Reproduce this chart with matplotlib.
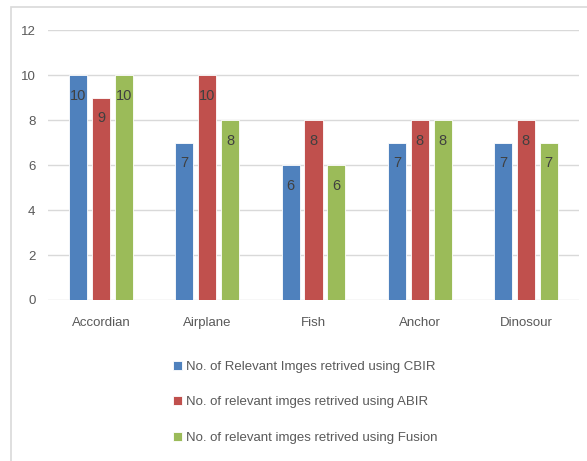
import matplotlib.pyplot as plt
import numpy as np
from matplotlib.patches import Rectangle

plt.rcParams['font.family'] = ['Liberation Sans', 'DejaVu Sans']

categories = ['Accordian', 'Airplane', 'Fish', 'Anchor', 'Dinosour']
cbir = [10, 7, 6, 7, 7]
abir = [9, 10, 8, 8, 8]
fusion = [10, 8, 6, 8, 7]
series_names = ['No. of Relevant Imges retrived using CBIR',
                'No. of relevant imges retrived using ABIR',
                'No. of relevant imges retrived using Fusion']
colors = ['#4f81bd', '#c0504d', '#9bbb59']

fig = plt.figure(figsize=(5.87, 4.61), dpi=100)
# outer chart frame
fig.patches.append(Rectangle((11 / 587, -0.05), 1.0, 1 - 7 / 461 + 0.05,
                             transform=fig.transFigure, fill=False,
                             edgecolor='#d9d9d9', linewidth=1.2))

ax = fig.add_axes([48 / 587, 1 - 300 / 461, (579 - 48) / 587, 270 / 461])

x = np.arange(len(categories))
width = 0.17
offsets = [-0.215, 0, 0.215]
bars = []
for vals, name, col, off in zip([cbir, abir, fusion], series_names, colors, offsets):
    b = ax.bar(x + off, vals, width, color=col, edgecolor='white', linewidth=0.6, label=name, zorder=3)
    ax.bar_label(b, padding=-20, color='#404040', fontsize=10.5)
    bars.append(b)

ax.set_xlim(-0.5, 4.5)
ax.set_ylim(0, 12)
ax.set_yticks(range(0, 13, 2))
ax.set_xticks(x)
ax.set_xticklabels(categories)
ax.grid(axis='y', color='#d9d9d9', linewidth=1, zorder=0)
for s in ax.spines.values():
    s.set_visible(False)
ax.tick_params(length=0, labelsize=9.5, colors='#595959')
ax.tick_params(axis='x', pad=12)
ax.tick_params(axis='y', pad=9)

fig.legend(handles=bars, loc='upper left', bbox_to_anchor=(161 / 587, 1 - 349 / 461),
           frameon=False, fontsize=9.5, labelcolor='#595959', handlelength=0.7,
           handleheight=0.7, handletextpad=0.3, labelspacing=1.75)

plt.savefig('out.png', dpi=100)
